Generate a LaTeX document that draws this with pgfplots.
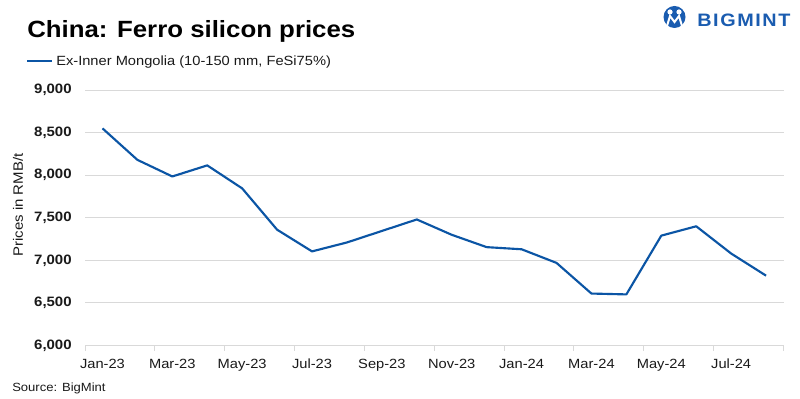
\documentclass[border=0pt]{standalone}
\usepackage{pgfplots}
\pgfplotsset{compat=1.18}
\usepackage{fontspec}
\setmainfont{Liberation Sans}[FakeStretch=1.1]
\definecolor{lineblue}{HTML}{0B55A5}
\definecolor{logoblue}{HTML}{1A5CB0}
\definecolor{gridgray}{HTML}{D9D9D9}
\definecolor{txt}{HTML}{1A1A1A}
\begin{document}
\begin{tikzpicture}[x=0.75pt,y=0.75pt]
\path[use as bounding box, fill=white] (0,0) rectangle (800,399);
\begin{axis}[at={(63.75pt,40.125pt)}, anchor=south west, scale only axis,
 width=523.9pt, height=191.6pt,
 xmin=-0.5, xmax=19.5, ymin=6000, ymax=9000,
 axis x line*=bottom, axis y line*=left,
 y axis line style={draw=none},
 x axis line style={gridgray, line width=0.75pt, -},
 ytick={6000,6500,...,9000}, ymajorgrids,
 grid style={gridgray, line width=0.75pt},
 ytick style={draw=none},
 xtick={0,2,...,18},
 xticklabels={Jan-23,Mar-23,May-23,Jul-23,Sep-23,Nov-23,Jan-24,Mar-24,May-24,Jul-24},
 minor xtick={-0.5,1.5,...,19.5},
 major tick length=0pt, minor tick length=4pt, tick align=outside,
 minor x tick style={gridgray, line width=0.75pt},
 /pgf/number format/assume math mode=true,
 yticklabel style={font=\fontsize{10.2pt}{12pt}\selectfont\bfseries, text=txt, xshift=-6.5pt,
   /pgf/number format/.cd, 1000 sep={,}},
 xticklabel style={font=\fontsize{10pt}{12pt}\selectfont, text=txt, yshift=-6.5pt},
]
\addplot[lineblue, line width=1.6pt, line join=round] coordinates {
(0,8550) (1,8180) (2,7985) (3,8115) (4,7845) (5,7360) (6,7105) (7,7210) (8,7345) (9,7480)
(10,7300) (11,7155) (12,7130) (13,6970) (14,6610) (15,6600) (16,7290) (17,7400) (18,7080) (19,6820)
};
\end{axis}
% title and legend
\node[anchor=base west, inner sep=0, font=\fontsize{17.6pt}{20pt}\selectfont\bfseries, text=black] at (27,399-37.7) {China: Ferro silicon prices};
\draw[lineblue, line width=1.6pt] (27,399-61) -- (52,399-61);
\node[anchor=base west, inner sep=0, font=\fontsize{10pt}{12pt}\selectfont, text=txt] at (56,399-65.7) {Ex-Inner Mongolia (10-150 mm, FeSi75\%)};
% y label
\node[rotate=90, inner sep=0, font=\fontsize{10.2pt}{12pt}\selectfont, text=txt] at (18,399-205) {Prices in RMB/t};
% source
\node[anchor=base west, inner sep=0, font=\fontsize{8.9pt}{10pt}\selectfont, text=txt] at (12,399-392) {Source: BigMint};
% logo
\fill[logoblue] (674.5,399-17) circle (11);
\fill[white] (670,399-12) circle (2.6);
\fill[white] (679,399-12) circle (2.6);
\draw[white, line width=1.5pt] (667,399-26) -- (670,399-16) -- (674.5,399-22) -- (679,399-16) -- (682,399-26);
\node[anchor=base west, inner sep=0, font=\fontsize{13.5pt}{15pt}\selectfont\bfseries, text=logoblue] at (697,399-27) {B\kern1.2pt I\kern1.2pt G\kern1.2pt M\kern1.2pt I\kern1.2pt N\kern1.2pt T};
\end{tikzpicture}
\end{document}
